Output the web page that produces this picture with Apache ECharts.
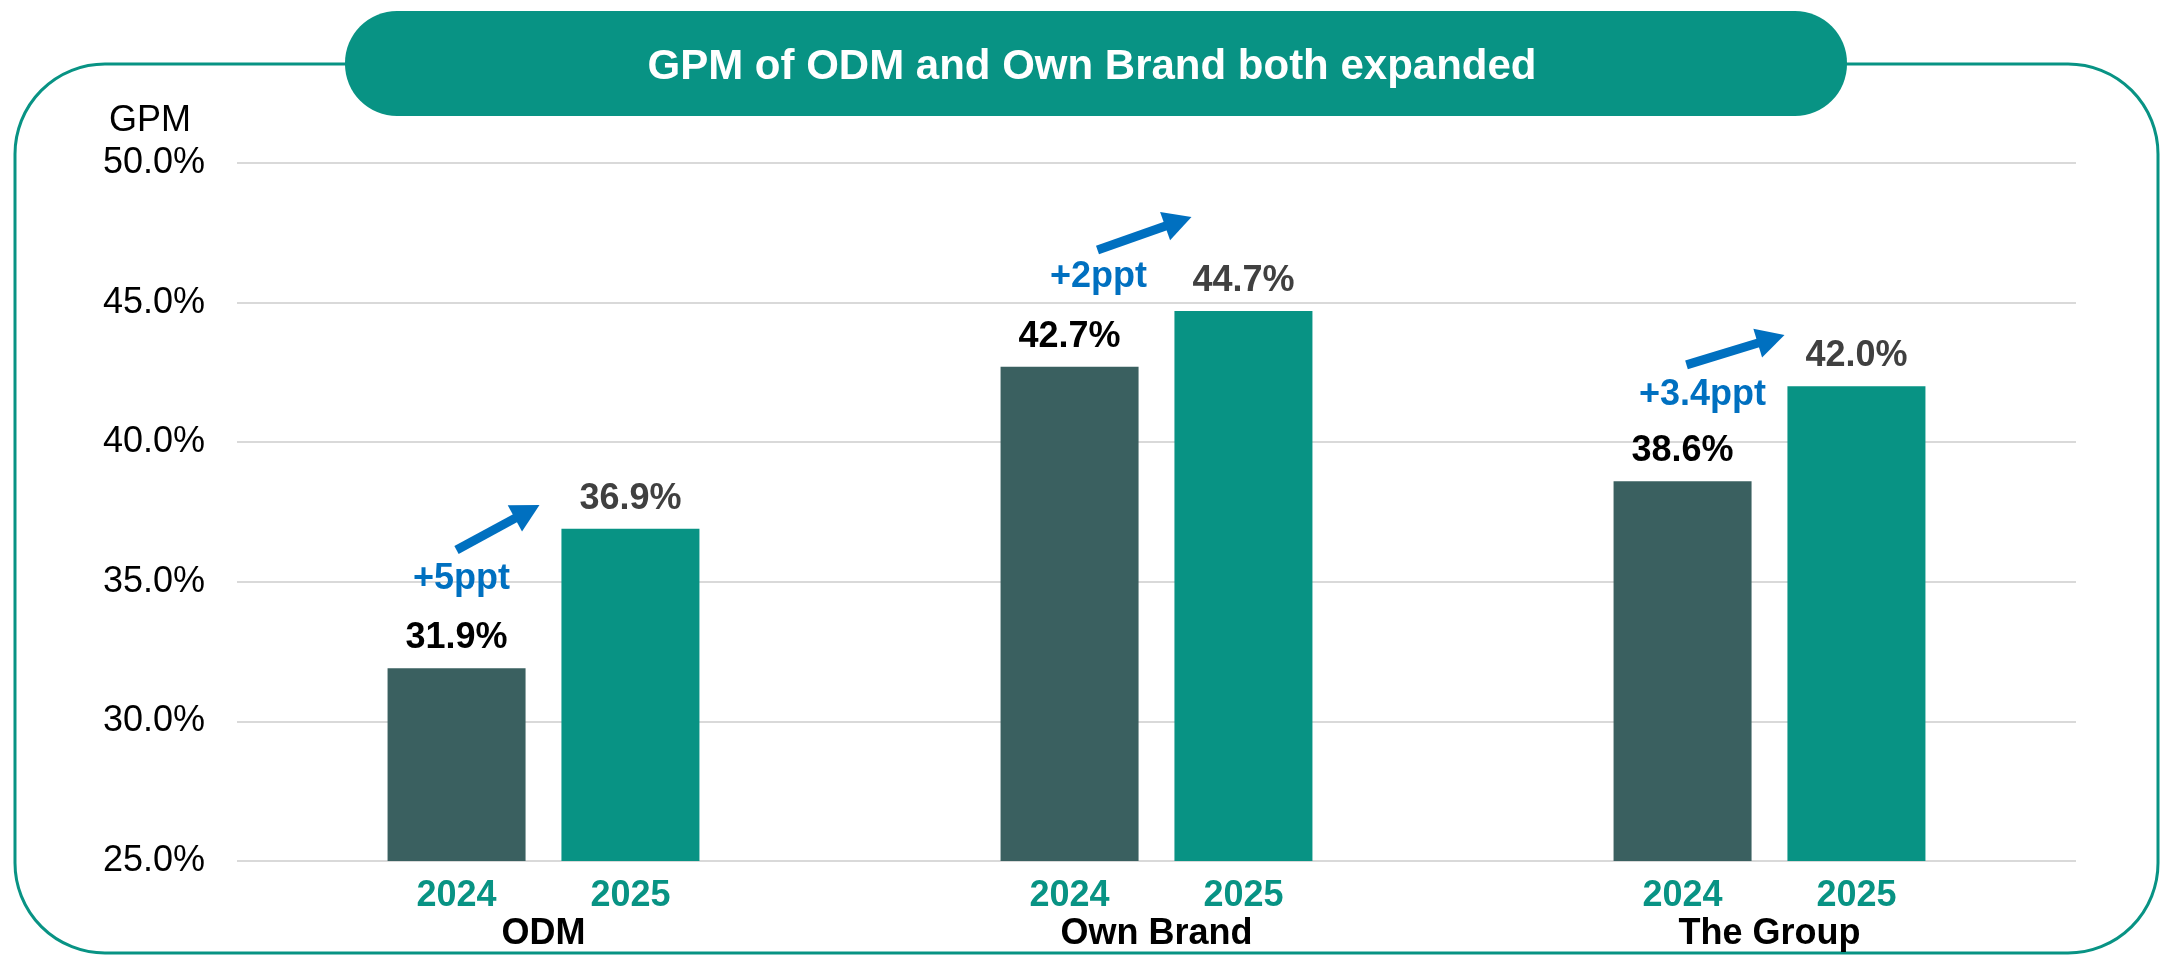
<!DOCTYPE html>
<html>
<head>
<meta charset="utf-8">
<script src="https://cdn.jsdelivr.net/npm/echarts@6/dist/echarts.min.js"></script>
<style>
html,body{margin:0;padding:0;background:#ffffff;}
#chart{width:2164px;height:956px;}
</style>
</head>
<body>
<div id="chart"></div>
<script>
// ---- data ----
var categories = ['ODM', 'Own Brand', 'The Group'];
var years = ['2024', '2025'];
var gpm2024 = [31.9, 42.7, 38.6];
var gpm2025 = [36.9, 44.7, 42.0];
var deltaLabels = ['+5ppt', '+2ppt', '+3.4ppt'];
var yTicks = [25, 30, 35, 40, 45, 50];
var titleText = 'GPM of ODM and Own Brand both expanded';
var yAxisName = 'GPM';

// ---- annotation layout (pixel x offsets from category centre, y in axis values) ----
var arrowLayout = [
  {x0: -87, y0: 36.14, x1: -4, y1: 37.75, lx: -82, ly: 35.10},
  {x0: -59, y0: 46.88, x1: 35, y1: 48.07, lx: -58, ly: 45.92},
  {x0: -83, y0: 42.77, x1: 15, y1: 43.84, lx: -67, ly: 41.69}
];

var FONT = 'Liberation Sans, Arial, Helvetica, sans-serif';
var TEAL = '#089384';
var DARK = '#3a6060';
var BLUE = '#0070c0';

var chart = echarts.init(document.getElementById('chart'));

var option = {
  backgroundColor: '#ffffff',
  animation: false,
  grid: {left: 237, right: 88, top: 163, bottom: 95},
  xAxis: {
    type: 'category',
    data: categories,
    axisLine: {show: false},
    axisTick: {show: false},
    axisLabel: {
      margin: 16,
      formatter: function (v) {
        return '{y|' + years[0] + '}{y|' + years[1] + '}\n{c|' + v + '}';
      },
      rich: {
        y: {width: 174, align: 'center', fontSize: 36, fontWeight: 'bold', color: TEAL, fontFamily: FONT, lineHeight: 38},
        c: {fontSize: 36, fontWeight: 'bold', color: '#000000', fontFamily: FONT, lineHeight: 38}
      }
    }
  },
  yAxis: {
    type: 'value',
    min: yTicks[0],
    max: yTicks[yTicks.length - 1],
    interval: yTicks[1] - yTicks[0],
    axisLine: {show: false},
    axisTick: {show: false},
    splitLine: {lineStyle: {color: '#d9d9d9', width: 2}},
    axisLabel: {
      margin: 32,
      fontSize: 36,
      color: '#000000',
      fontFamily: FONT,
      formatter: function (v) { return v.toFixed(1) + '%'; }
    }
  },
  series: [
    {
      name: years[0],
      type: 'bar',
      data: gpm2024,
      barWidth: 138,
      barGap: '26%',
      itemStyle: {color: DARK},
      label: {
        show: true, position: 'top', distance: 12,
        fontSize: 36, fontWeight: 'bold', color: '#000000', fontFamily: FONT,
        formatter: function (p) { return p.value.toFixed(1) + '%'; }
      }
    },
    {
      name: years[1],
      type: 'bar',
      data: gpm2025,
      barWidth: 138,
      barGap: '26%',
      itemStyle: {color: TEAL},
      label: {
        show: true, position: 'top', distance: 12,
        fontSize: 36, fontWeight: 'bold', color: '#404040', fontFamily: FONT,
        formatter: function (p) { return p.value.toFixed(1) + '%'; }
      }
    }
  ]
};

chart.setOption(option);

function buildGraphics() {
  var els = [];
  // outer rounded frame
  els.push({
    type: 'rect', z: 0, silent: true,
    shape: {x: 15, y: 64, width: 2143, height: 889, r: 90},
    style: {fill: 'none', stroke: TEAL, lineWidth: 3}
  });
  // title pill
  els.push({
    type: 'rect', z: 10, silent: true,
    shape: {x: 345, y: 11, width: 1502, height: 105, r: 52},
    style: {fill: TEAL}
  });
  els.push({
    type: 'text', z: 11, silent: true,
    style: {
      x: 1092, y: 67, text: titleText,
      fill: '#ffffff', font: 'bold 42px ' + FONT,
      textAlign: 'center', textVerticalAlign: 'middle'
    }
  });
  // y axis name
  els.push({
    type: 'text', z: 11, silent: true,
    style: {
      x: 150, y: 121, text: yAxisName,
      fill: '#000000', font: '36px ' + FONT,
      textAlign: 'center', textVerticalAlign: 'middle'
    }
  });
  // growth arrows and labels
  for (var i = 0; i < categories.length; i++) {
    var L = arrowLayout[i];
    var c = chart.convertToPixel({gridIndex: 0}, [i, 0])[0];
    var p0 = [c + L.x0, chart.convertToPixel({gridIndex: 0}, [i, L.y0])[1]];
    var p1 = [c + L.x1, chart.convertToPixel({gridIndex: 0}, [i, L.y1])[1]];
    var dx = p1[0] - p0[0], dy = p1[1] - p0[1];
    var len = Math.sqrt(dx * dx + dy * dy);
    var ux = dx / len, uy = dy / len;
    var headLen = 28, headHalf = 15;
    var bx = p1[0] - ux * headLen, by = p1[1] - uy * headLen;
    els.push({
      type: 'line', z: 12, silent: true,
      shape: {x1: p0[0], y1: p0[1], x2: bx + ux * 2, y2: by + uy * 2},
      style: {stroke: BLUE, lineWidth: 9}
    });
    els.push({
      type: 'polygon', z: 12, silent: true,
      shape: {points: [
        [p1[0], p1[1]],
        [bx - uy * headHalf, by + ux * headHalf],
        [bx + uy * headHalf, by - ux * headHalf]
      ]},
      style: {fill: BLUE}
    });
    var ly = chart.convertToPixel({gridIndex: 0}, [i, L.ly])[1];
    els.push({
      type: 'text', z: 12, silent: true,
      style: {
        x: c + L.lx, y: ly, text: deltaLabels[i],
        fill: BLUE, font: 'bold 36px ' + FONT,
        textAlign: 'center', textVerticalAlign: 'middle'
      }
    });
  }
  chart.setOption({graphic: {elements: els}});
}
buildGraphics();
</script>
</body>
</html>
